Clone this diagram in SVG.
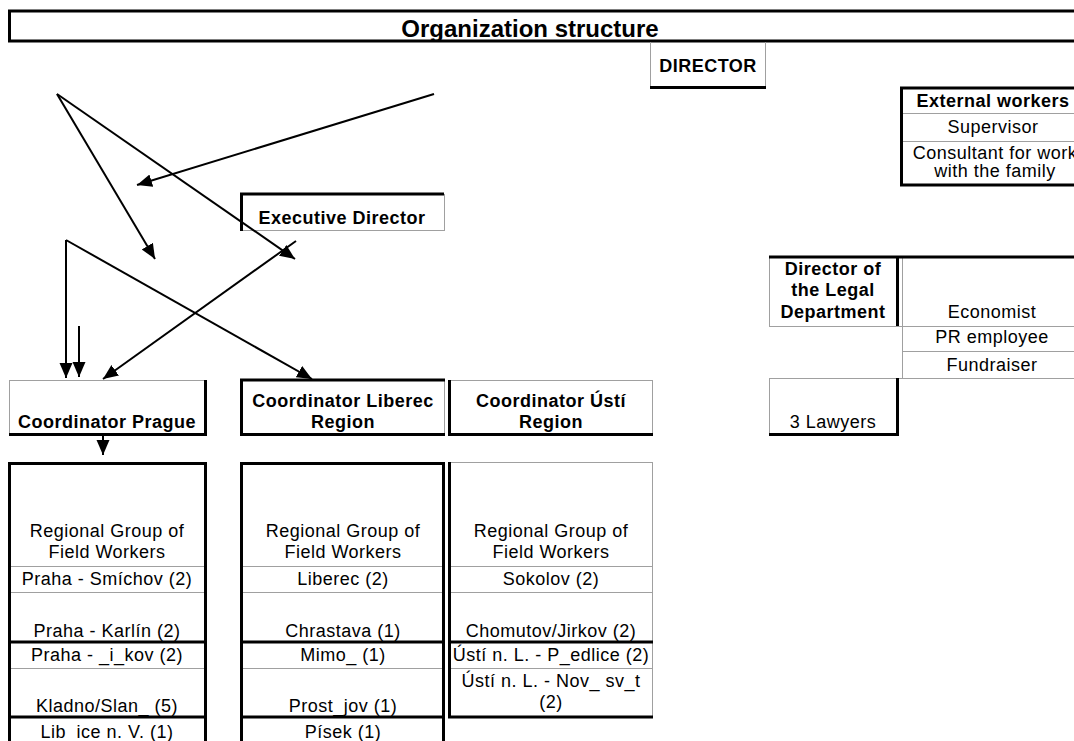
<svg xmlns="http://www.w3.org/2000/svg" width="1074" height="741" viewBox="0 0 1074 741">
<style>
.t { font-family: "Liberation Sans", Arial, sans-serif; font-size: 18px; letter-spacing: 0.5px; fill: #000; text-anchor: middle; }
.b { font-weight: bold; }
.title { font-size: 24px; letter-spacing: 0; }
.k { stroke: #000; stroke-width: 3; fill: none; }
.g { stroke: #a0a0a0; stroke-width: 1; fill: none; }
.c { stroke: #000; stroke-width: 2; fill: none; marker-end: url(#arrow); }
</style>
<defs>
<marker id="arrow" markerUnits="userSpaceOnUse" markerWidth="16" markerHeight="14" refX="15" refY="6.5" orient="auto">
<path d="M0,0 L15,6.5 L0,13 z" fill="#000"/>
</marker>
</defs>
<rect width="1074" height="741" fill="#fff"/>

<g id="title">
<path class="k" d="M1074,11 H9.5 V41 H1074"/>
<text class="t b title" x="530" y="37">Organization structure</text>
</g>

<g id="director">
<path class="g" d="M650.5,42 V88 M765.5,42 V88"/>
<path class="k" d="M650,87.5 H766"/>
<text class="t b" x="708" y="72">DIRECTOR</text>
</g>

<g id="external-workers">
<path class="g" d="M903,113.5 H1074 M903,141.5 H1074"/>
<path class="k" d="M1074,88 H901.5 V185 H1074"/>
<text class="t b" x="993" y="107">External workers</text>
<text class="t" x="993" y="133">Supervisor</text>
<text class="t" x="995" y="159">Consultant for work</text>
<text class="t" x="995" y="177">with the family</text>
</g>

<g id="executive-director">
<path class="g" d="M241,230.5 H444.5 M444.5,194 V231"/>
<path class="k" d="M444,194 H241.5 V231"/>
<text class="t b" x="342" y="224">Executive Director</text>
</g>

<g id="legal-director">
<path class="g" d="M769.5,257 V326 M769,326.5 H902"/>
<path class="k" d="M769,257 H897.5 V326"/>
<text class="t b" x="833" y="275">Director of</text>
<text class="t b" x="833" y="296">the Legal</text>
<text class="t b" x="833" y="318">Department</text>
</g>

<g id="staff">
<path class="g" d="M902.5,257 V378 M902,326.5 H1074 M902,351.5 H1074 M769,378.5 H1074"/>
<path class="k" d="M899,257 H1074"/>
<text class="t" x="992" y="318">Economist</text>
<text class="t" x="992" y="343">PR employee</text>
<text class="t" x="992" y="371">Fundraiser</text>
</g>

<g id="lawyers">
<path class="g" d="M769.5,378 V434"/>
<path class="k" d="M897.5,378 V434 M769,434.5 H899"/>
<text class="t" x="833" y="428">3 Lawyers</text>
</g>

<g id="coord-prague">
<path class="g" d="M9.5,380 V435 M9,380.5 H206"/>
<path class="k" d="M205.5,380 V435.5 M9,434.5 H207"/>
<text class="t b" x="107" y="428">Coordinator Prague</text>
</g>

<g id="coord-liberec">
<path class="g" d="M444.5,380 V434"/>
<path class="k" d="M241.5,434.5 V380 H445 M240,434.5 H445"/>
<text class="t b" x="343" y="407">Coordinator Liberec</text>
<text class="t b" x="343" y="428">Region</text>
</g>

<g id="coord-usti">
<path class="g" d="M449,380.5 H652 M652.5,380 V434"/>
<path class="k" d="M449.5,380 V436 M448,434.5 H653"/>
<text class="t b" x="551" y="407">Coordinator Ústí</text>
<text class="t b" x="551" y="428">Region</text>
</g>

<g id="group-prague">
<path class="g" d="M9,566.5 H206 M9,592.5 H206 M9,668.5 H206"/>
<path class="k" d="M9.5,463 V741 M205.5,463 V741 M8,463.5 H207 M9,642 H206 M9,717 H206"/>
<text class="t" x="107" y="537">Regional Group of</text>
<text class="t" x="107" y="558">Field Workers</text>
<text class="t" x="107" y="585">Praha - Smíchov (2)</text>
<text class="t" x="107" y="637">Praha - Karlín (2)</text>
<text class="t" x="107" y="661">Praha - _i_kov (2)</text>
<text class="t" x="107" y="712">Kladno/Slan_ (5)</text>
<text class="t" x="107" y="738">Lib_ice n. V. (1)</text>
</g>

<g id="group-liberec">
<path class="g" d="M241,566.5 H444 M241,592.5 H444 M241,668.5 H444"/>
<path class="k" d="M241.5,463 V741 M443.5,463 V741 M240,463.5 H445 M241,642 H444 M241,717 H444"/>
<text class="t" x="343" y="537">Regional Group of</text>
<text class="t" x="343" y="558">Field Workers</text>
<text class="t" x="343" y="585">Liberec (2)</text>
<text class="t" x="343" y="637">Chrastava (1)</text>
<text class="t" x="343" y="661">Mimo_ (1)</text>
<text class="t" x="343" y="712">Prost_jov (1)</text>
<text class="t" x="343" y="738">Písek (1)</text>
</g>

<g id="group-usti">
<path class="g" d="M449,462.5 H652 M652.5,462 V717 M449,566.5 H652 M449,592.5 H652 M449,668.5 H652"/>
<path class="k" d="M449.5,462 V718.5 M448,642 H653 M448,717 H653"/>
<text class="t" x="551" y="537">Regional Group of</text>
<text class="t" x="551" y="558">Field Workers</text>
<text class="t" x="551" y="585">Sokolov (2)</text>
<text class="t" x="551" y="637">Chomutov/Jirkov (2)</text>
<text class="t" x="551" y="661">Ústí n. L. - P_edlice (2)</text>
<text class="t" x="551" y="687">Ústí n. L. - Nov_ sv_t</text>
<text class="t" x="551" y="708">(2)</text>
</g>

<g id="connectors">
<line class="c" x1="57" y1="94" x2="155" y2="259"/>
<line class="c" x1="57" y1="94" x2="295" y2="259"/>
<line class="c" x1="434" y1="94" x2="137" y2="185"/>
<line class="c" x1="66" y1="240" x2="66" y2="378"/>
<line class="c" x1="66" y1="240" x2="312" y2="379"/>
<line class="c" x1="79" y1="326" x2="79" y2="377"/>
<line class="c" x1="296" y1="241" x2="103" y2="379"/>
<line class="c" x1="103" y1="436" x2="103" y2="455"/>
</g>
</svg>
